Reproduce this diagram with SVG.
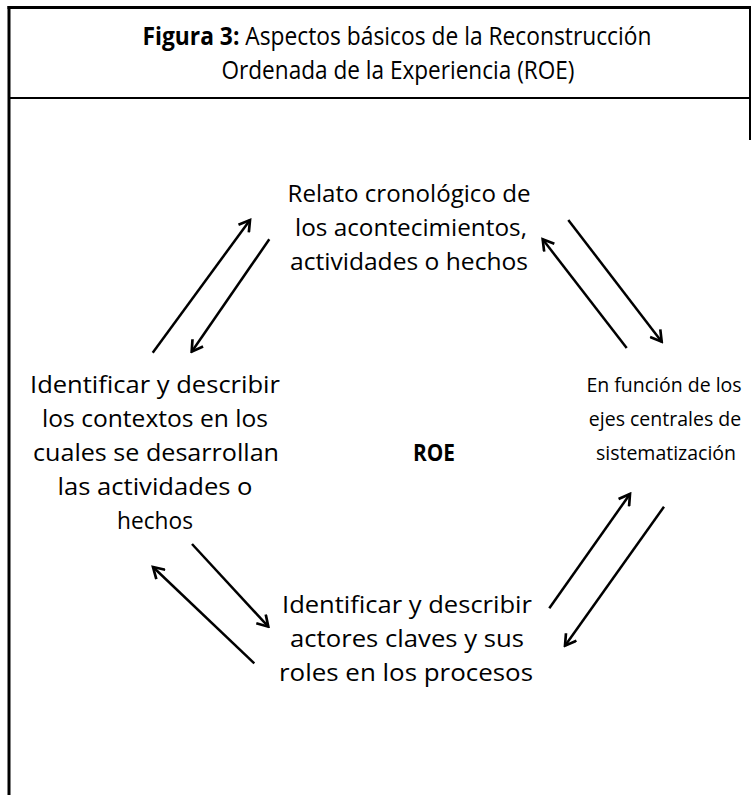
<svg xmlns="http://www.w3.org/2000/svg" width="754" height="795" viewBox="0 0 754 795">
<style>
.t{font-family:"Open Sans","Noto Sans",sans-serif;font-size:23px;fill:#000;text-anchor:middle}
.r{font-size:19.5px}
.ti{font-family:"Open Sans","Noto Sans",sans-serif;font-size:25px;fill:#000;text-anchor:middle}
.b{font-weight:bold}
.c{stroke:#000;stroke-width:2.5;fill:none;marker-end:url(#ah)}
.frame{stroke:#000;fill:none}
</style>
<defs>
<marker id="ah" viewBox="0 0 14 14" refX="12" refY="7" markerWidth="15" markerHeight="15" markerUnits="userSpaceOnUse" orient="auto">
<path d="M2,1 L12,7 L2,13" fill="none" stroke="#000" stroke-width="2.5"/>
</marker>
</defs>
<rect width="754" height="795" fill="#fff"/>
<g id="frame">
<line class="frame" x1="9" y1="6" x2="9" y2="795" stroke-width="3"/>
<line class="frame" x1="7.5" y1="7.5" x2="751" y2="7.5" stroke-width="3"/>
<line class="frame" x1="750" y1="6" x2="750" y2="140" stroke-width="2"/>
<line class="frame" x1="8" y1="98" x2="751" y2="98" stroke-width="2"/>
</g>
<g id="title">
<text class="ti" x="397" y="45" textLength="509" lengthAdjust="spacingAndGlyphs"><tspan class="b">Figura 3:</tspan> Aspectos básicos de la Reconstrucción</text>
<text class="ti" x="398" y="79" textLength="353" lengthAdjust="spacingAndGlyphs">Ordenada de la Experiencia (ROE)</text>
</g>
<g id="node-top">
<text class="t" x="409" y="202" textLength="243" lengthAdjust="spacingAndGlyphs">Relato cronológico de</text>
<text class="t" x="411" y="236" textLength="232" lengthAdjust="spacingAndGlyphs">los acontecimientos,</text>
<text class="t" x="409" y="270" textLength="238" lengthAdjust="spacingAndGlyphs">actividades o hechos</text>
</g>
<g id="node-right">
<text class="t r" x="664" y="392">En función de los</text>
<text class="t r" x="665" y="426">ejes centrales de</text>
<text class="t r" x="666" y="460">sistematización</text>
</g>
<g id="node-left">
<text class="t" x="155" y="393" textLength="250" lengthAdjust="spacingAndGlyphs">Identificar y describir</text>
<text class="t" x="155" y="427" textLength="226" lengthAdjust="spacingAndGlyphs">los contextos en los</text>
<text class="t" x="156" y="461" textLength="246" lengthAdjust="spacingAndGlyphs">cuales se desarrollan</text>
<text class="t" x="155" y="495" textLength="195" lengthAdjust="spacingAndGlyphs">las actividades o</text>
<text class="t" x="155" y="529" textLength="76" lengthAdjust="spacingAndGlyphs">hechos</text>
</g>
<g id="node-bottom">
<text class="t" x="407" y="613" textLength="250" lengthAdjust="spacingAndGlyphs">Identificar y describir</text>
<text class="t" x="407" y="647" textLength="234" lengthAdjust="spacingAndGlyphs">actores claves y sus</text>
<text class="t" x="406" y="681" textLength="254" lengthAdjust="spacingAndGlyphs">roles en los procesos</text>
</g>
<g id="node-center">
<text class="t b" x="434" y="461" textLength="42" lengthAdjust="spacingAndGlyphs">ROE</text>
</g>
<g id="connectors">
<line class="c" x1="152.7" y1="352.7" x2="250" y2="220"/>
<line class="c" x1="269.3" y1="239.3" x2="191.7" y2="351.7"/>
<line class="c" x1="626.7" y1="348" x2="542.7" y2="239.3"/>
<line class="c" x1="568.3" y1="220" x2="661.7" y2="341.7"/>
<line class="c" x1="254.3" y1="663.3" x2="153" y2="567"/>
<line class="c" x1="192" y1="544" x2="268.3" y2="626.7"/>
<line class="c" x1="549.3" y1="608.3" x2="630" y2="494"/>
<line class="c" x1="664" y1="506.7" x2="565" y2="645.7"/>
</g>
</svg>
